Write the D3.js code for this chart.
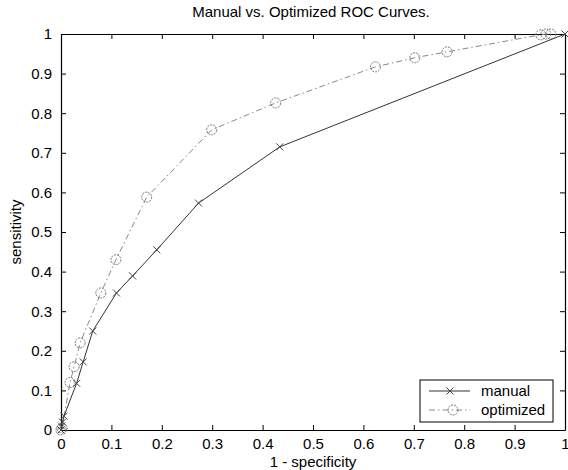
<!DOCTYPE html>
<html>
<head>
<meta charset="utf-8">
<script src="https://cdn.jsdelivr.net/npm/d3@7"></script>
<style>
  body { margin: 0; background: #fff; }
  text { font-family: "Liberation Sans", Arial, sans-serif; fill: #000; }
  .axis text { font-size: 15px; }
  .axis path, .axis line { stroke: #000; }
</style>
</head>
<body>
<script>
// data
const manualX = [0, 0.001, 0.003, 0.006, 0.031, 0.044, 0.063, 0.11, 0.142, 0.19, 0.273, 0.434, 1];
const manualY = [0, 0.01, 0.02, 0.035, 0.118, 0.172, 0.25, 0.346, 0.389, 0.455, 0.573, 0.715, 1];
const optX = [0, 0.002, 0.018, 0.026, 0.038, 0.079, 0.109, 0.17, 0.299, 0.426, 0.624, 0.702, 0.766, 0.952, 0.962, 0.972];
const optY = [0, 0.005, 0.12, 0.16, 0.22, 0.346, 0.43, 0.588, 0.758, 0.826, 0.917, 0.94, 0.955, 0.998, 1, 1];
const ticks = [0, 0.1, 0.2, 0.3, 0.4, 0.5, 0.6, 0.7, 0.8, 0.9, 1];
const seriesNames = ['manual', 'optimized'];

const width = 568, height = 470;
const margin = { left: 61, right: 3, top: 34, bottom: 40 };

const svg = d3.select('body').append('svg')
  .attr('width', width)
  .attr('height', height);

const x = d3.scaleLinear().domain([0, 1]).range([margin.left, width - margin.right]);
const y = d3.scaleLinear().domain([0, 1]).range([height - margin.bottom, margin.top]);

const fmt = d => d === 0 || d === 1 ? String(d) : d3.format('.1f')(d);

// axes, ticks inside on all four sides (box on)
svg.append('g').attr('class', 'axis')
  .attr('transform', `translate(0,${y(0)})`)
  .call(d3.axisBottom(x).tickValues(ticks).tickFormat(fmt).tickSizeInner(-5).tickSizeOuter(0).tickPadding(8));
svg.append('g').attr('class', 'axis')
  .attr('transform', `translate(${x(0)},0)`)
  .call(d3.axisLeft(y).tickValues(ticks).tickFormat(fmt).tickSizeInner(-5).tickSizeOuter(0).tickPadding(9));
svg.append('g').attr('class', 'axis')
  .attr('transform', `translate(0,${y(1)})`)
  .call(d3.axisTop(x).tickValues(ticks).tickFormat('').tickSizeInner(-5).tickSizeOuter(0));
svg.append('g').attr('class', 'axis')
  .attr('transform', `translate(${x(1)},0)`)
  .call(d3.axisRight(y).tickValues(ticks).tickFormat('').tickSizeInner(-5).tickSizeOuter(0));

svg.selectAll('.axis .domain').attr('stroke-width', 1.2);

// title and labels
svg.append('text')
  .attr('x', (x(0) + x(1)) / 2 - 2).attr('y', 17)
  .attr('text-anchor', 'middle').style('font-size', '15px')
  .text('Manual vs. Optimized ROC Curves.');
svg.append('text')
  .attr('x', (x(0) + x(1)) / 2).attr('y', 467)
  .attr('text-anchor', 'middle').style('font-size', '15px')
  .text('1 - specificity');
svg.append('text')
  .attr('transform', `translate(21,${(y(0) + y(1)) / 2}) rotate(-90)`)
  .attr('text-anchor', 'middle').style('font-size', '15px')
  .text('sensitivity');

const line = d3.line().x(d => x(d[0])).y(d => y(d[1]));
const manual = manualX.map((v, i) => [v, manualY[i]]);
const opt = optX.map((v, i) => [v, optY[i]]);

const styles = {
  manual: { color: '#333', dash: null },
  optimized: { color: '#888', dash: '6,3,1.5,3' }
};

function drawX(g, px, py, color) {
  g.append('path')
    .attr('d', `M${px - 3.5},${py - 3.5}L${px + 3.5},${py + 3.5}M${px - 3.5},${py + 3.5}L${px + 3.5},${py - 3.5}`)
    .attr('stroke', color).attr('fill', 'none');
}
function drawO(g, px, py, color) {
  g.append('circle').attr('cx', px).attr('cy', py).attr('r', 5)
    .attr('stroke', color).attr('fill', 'none').attr('stroke-dasharray', '2,1');
}

const plot = svg.append('g');
plot.append('path').datum(opt).attr('d', line)
  .attr('fill', 'none').attr('stroke', styles.optimized.color)
  .attr('stroke-dasharray', styles.optimized.dash);
opt.forEach(d => drawO(plot, x(d[0]), y(d[1]), '#777'));

plot.append('path').datum(manual).attr('d', line)
  .attr('fill', 'none').attr('stroke', styles.manual.color);
manual.forEach(d => drawX(plot, x(d[0]), y(d[1]), '#444'));

// legend
const lg = svg.append('g').attr('transform', 'translate(420,380)');
lg.append('rect').attr('width', 133).attr('height', 42)
  .attr('fill', '#fff').attr('stroke', '#000');
seriesNames.forEach((name, i) => {
  const ly = 11 + i * 19;
  const s = styles[name];
  lg.append('line').attr('x1', 9).attr('x2', 50).attr('y1', ly).attr('y2', ly)
    .attr('stroke', s.color).attr('stroke-dasharray', s.dash);
  if (name === 'manual') drawX(lg, 30, ly, '#444');
  else drawO(lg, 33, ly, '#777');
  lg.append('text').attr('x', 61).attr('y', ly + 5)
    .style('font-size', '15px').text(name);
});
</script>
</body>
</html>
